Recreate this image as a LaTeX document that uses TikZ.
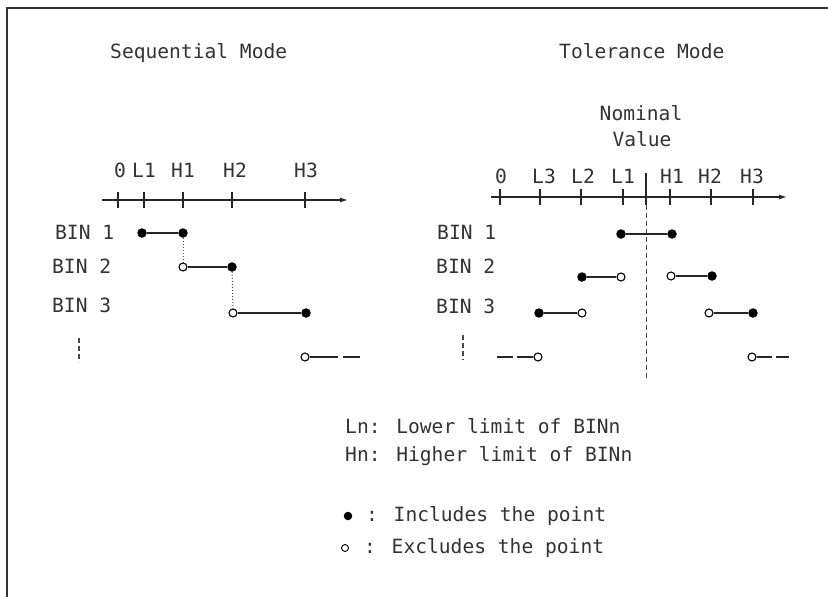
\documentclass[tikz,border=0pt]{standalone}
\usepackage{fontspec}
\newfontfamily\dmono{DejaVu Sans Mono}
\usetikzlibrary{arrows.meta}
\begin{document}
\begin{tikzpicture}[x=1pt,y=-1pt,
  txt/.style={inner sep=0pt,font=\dmono\fontsize{19.6}{22}\selectfont,text=black!80},
  lbl/.style={txt,anchor=base west},
  tick/.style={txt,anchor=base},
  fdot/.style={circle,fill=black,inner sep=0pt,minimum size=9.5pt},
  odot/.style={circle,draw=black,fill=white,line width=1.1pt,inner sep=0pt,minimum size=8pt},
  seg/.style={line width=1.2pt,black!85},
  axis/.style={line width=1.2pt,black!85,-{Latex[length=8pt,width=5pt]}},
  tk/.style={line width=1.2pt,black!85},
  dotline/.style={line width=1pt,black!70,dotted},
  vdash/.style={line width=1.1pt,black!70,dash pattern=on 5pt off 3pt},
  frame/.style={line width=2pt,black!80}]
\useasboundingbox (0,0) rectangle (828,597);
\fill[white] (0,0) rectangle (828,597);
% frame
\coordinate (fr1) at (828,8);
\coordinate (fr2) at (7,8);
\coordinate (fr3) at (7,597);
\draw[frame] (fr1) -- (fr2) -- (fr3);

% titles
\node[lbl] (tseq) at (110,58) {Sequential Mode};
\node[lbl] (ttol) at (559,58) {Tolerance Mode};

% ===== Sequential mode =====
\coordinate (sax0) at (102,200);
\coordinate (sax1) at (348,200);
\draw[axis] (sax0) -- (sax1);
\foreach \n/\x/\l in {a/118/0,b/144/L1,c/183/H1,d/232/H2,e/305/H3}{
  \coordinate (st\n t) at (\x,192);
  \coordinate (st\n b) at (\x,208);
  \draw[tk] (st\n t) -- (st\n b);
}
\node[tick] (sl0) at (120,177) {0};
\node[tick] (sl1) at (144,177) {L1};
\node[tick] (sl2) at (183,177) {H1};
\node[tick] (sl3) at (235,177) {H2};
\node[tick] (sl4) at (306,177) {H3};

\node[lbl] (sb1) at (55,239) {BIN 1};
\node[lbl] (sb2) at (52,273) {BIN 2};
\node[lbl] (sb3) at (52,312) {BIN 3};

\node[fdot] (s1a) at (142,233) {};
\node[fdot] (s1b) at (183,233) {};
\draw[seg] (s1a) -- (s1b);
\node[odot] (s2a) at (183,267) {};
\node[fdot] (s2b) at (232,267) {};
\draw[seg] (s2a) -- (s2b);
\draw[dotline] (s1b) -- (s2a);
\node[odot] (s3a) at (233,313) {};
\node[fdot] (s3b) at (306,313) {};
\draw[seg] (s3a) -- (s3b);
\draw[dotline] (s2b) -- (s3a);
\node[odot] (s4a) at (305,357) {};
\coordinate (s4b) at (338,357);
\coordinate (s4c) at (343,357);
\coordinate (s4d) at (360,357);
\draw[seg] (s4a) -- (s4b);
\draw[seg] (s4c) -- (s4d);
\coordinate (se0) at (79,338);
\coordinate (se1) at (79,362);
\draw[vdash] (se0) -- (se1);

% ===== Tolerance mode =====
\node[txt] (nom) at (641,113) {Nominal};
\node[txt] (val) at (642,139) {Value};
\coordinate (tax0) at (491,197);
\coordinate (tax1) at (787,197);
\draw[axis] (tax0) -- (tax1);
\foreach \n/\x in {a/500,b/540,c/581,d/623,e/670,f/711,g/753}{
  \coordinate (tt\n t) at (\x,189);
  \coordinate (tt\n b) at (\x,205);
  \draw[tk] (tt\n t) -- (tt\n b);
}
\coordinate (nomt) at (646,173);
\coordinate (nomm) at (646,205);
\coordinate (nomb) at (646,378);
\draw[tk] (nomt) -- (nomm);
\draw[vdash,line width=0.9pt] (nomm) -- (nomb);

\node[tick] (tl0) at (501,183) {0};
\node[tick] (tl1) at (544,183) {L3};
\node[tick] (tl2) at (583,183) {L2};
\node[tick] (tl3) at (623,183) {L1};
\node[tick] (tl4) at (672,183) {H1};
\node[tick] (tl5) at (710,183) {H2};
\node[tick] (tl6) at (752,183) {H3};

\node[lbl] (tb1) at (437,239) {BIN 1};
\node[lbl] (tb2) at (436,273) {BIN 2};
\node[lbl] (tb3) at (436,313) {BIN 3};

\node[fdot] (t1a) at (621,234) {};
\node[fdot] (t1b) at (672,234) {};
\draw[seg] (t1a) -- (t1b);
\node[fdot] (t2a) at (582,277) {};
\node[odot] (t2b) at (621,277) {};
\draw[seg] (t2a) -- (t2b);
\node[odot] (t2c) at (671,276) {};
\node[fdot] (t2d) at (712,276) {};
\draw[seg] (t2c) -- (t2d);
\node[fdot] (t3a) at (539,313) {};
\node[odot] (t3b) at (582,313) {};
\draw[seg] (t3a) -- (t3b);
\node[odot] (t3c) at (709,313) {};
\node[fdot] (t3d) at (753,313) {};
\draw[seg] (t3c) -- (t3d);

\coordinate (t4a) at (497,357);
\coordinate (t4b) at (513,357);
\coordinate (t4c) at (517,357);
\node[odot] (t4d) at (538,357) {};
\draw[seg] (t4a) -- (t4b);
\draw[seg] (t4c) -- (t4d);
\node[odot] (t4e) at (752,357) {};
\coordinate (t4f) at (772,357);
\coordinate (t4g) at (776,357);
\coordinate (t4h) at (789,357);
\draw[seg] (t4e) -- (t4f);
\draw[seg] (t4g) -- (t4h);
\coordinate (te0) at (463,335);
\coordinate (te1) at (463,360);
\draw[vdash] (te0) -- (te1);

% ===== legend =====
\node[lbl] (lg1) at (345,433) {Ln: Lower limit of BINn};
\node[lbl] (lg2) at (345,461) {Hn: Higher limit of BINn};
\node[fdot,minimum size=8.5pt] (lgd) at (348,516) {};
\node[lbl] (lg3) at (366,521) {: Includes the point};
\node[odot,minimum size=7pt,line width=0.9pt] (lgo) at (345,548) {};
\node[lbl] (lg4) at (364,553) {: Excludes the point};
\end{tikzpicture}
\end{document}
